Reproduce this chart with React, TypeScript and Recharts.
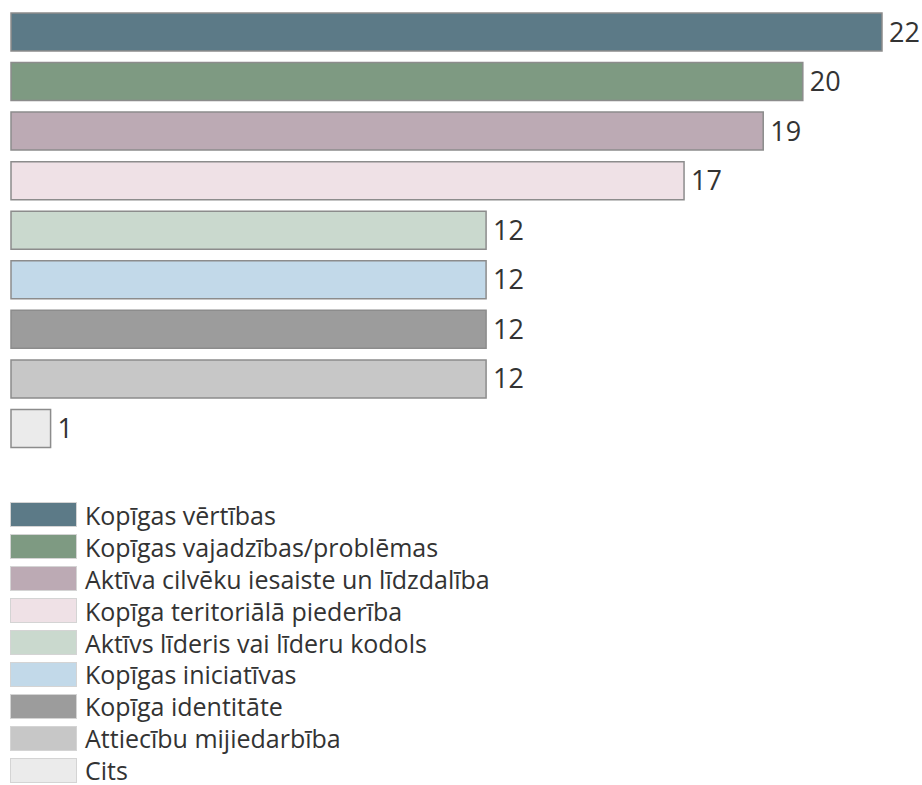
import React from 'react';
import { BarChart, Bar, XAxis, YAxis, Cell, LabelList, Legend } from 'recharts';

const categories = [
  'Kopīgas vērtības',
  'Kopīgas vajadzības/problēmas',
  'Aktīva cilvēku iesaiste un līdzdalība',
  'Kopīga teritoriālā piederība',
  'Aktīvs līderis vai līderu kodols',
  'Kopīgas iniciatīvas',
  'Kopīga identitāte',
  'Attiecību mijiedarbība',
  'Cits',
];
const values = [22, 20, 19, 17, 12, 12, 12, 12, 1];
const colors = ['#5c7a87', '#7e9a82', '#bcaab4', '#efe1e6', '#cad9ce', '#c2d9e9', '#9c9c9c', '#c7c7c7', '#ebebeb'];

const data = categories.map((name, i) => ({ name, value: values[i], color: colors[i] }));

const FONT = '"Open Sans", "Noto Sans", sans-serif';

const renderLegend = () => (
  <div style={{ height: 332, boxSizing: 'border-box', paddingTop: 46, overflow: 'hidden', marginLeft: -1 }}>
    {data.map((d) => (
      <div key={d.name} style={{ display: 'flex', alignItems: 'center', height: 31.9 }}>
        <div style={{ width: 67, height: 25, background: d.color, border: '1px solid #d4d4d4', boxSizing: 'border-box', flex: 'none' }} />
        <span style={{ marginLeft: 8, fontSize: 25, color: '#333', fontFamily: FONT, lineHeight: '22px', whiteSpace: 'nowrap' }}>{d.name}</span>
      </div>
    ))}
  </div>
);

export default function App() {
  return (
    <div style={{ position: 'absolute', left: 0, top: 0, width: 922, height: 785, overflow: 'hidden', background: '#fff', fontFamily: FONT }}>
      <BarChart
        width={922}
        height={785}
        data={data}
        layout="vertical"
        margin={{ top: 7, right: 40, left: 11, bottom: 0 }}
      >
        <XAxis type="number" domain={[0, 22]} hide />
        <YAxis type="category" dataKey="name" hide />
        <Legend verticalAlign="bottom" align="left" layout="horizontal" content={renderLegend} />
        <Bar dataKey="value" barSize={38} stroke="#8c8c8c" strokeWidth={1.5} isAnimationActive={false}>
          {data.map((d) => (
            <Cell key={d.name} fill={d.color} />
          ))}
          <LabelList dataKey="value" position="right" offset={7} style={{ fontSize: 27, fill: '#333', fontFamily: FONT }} />
        </Bar>
      </BarChart>
    </div>
  );
}
